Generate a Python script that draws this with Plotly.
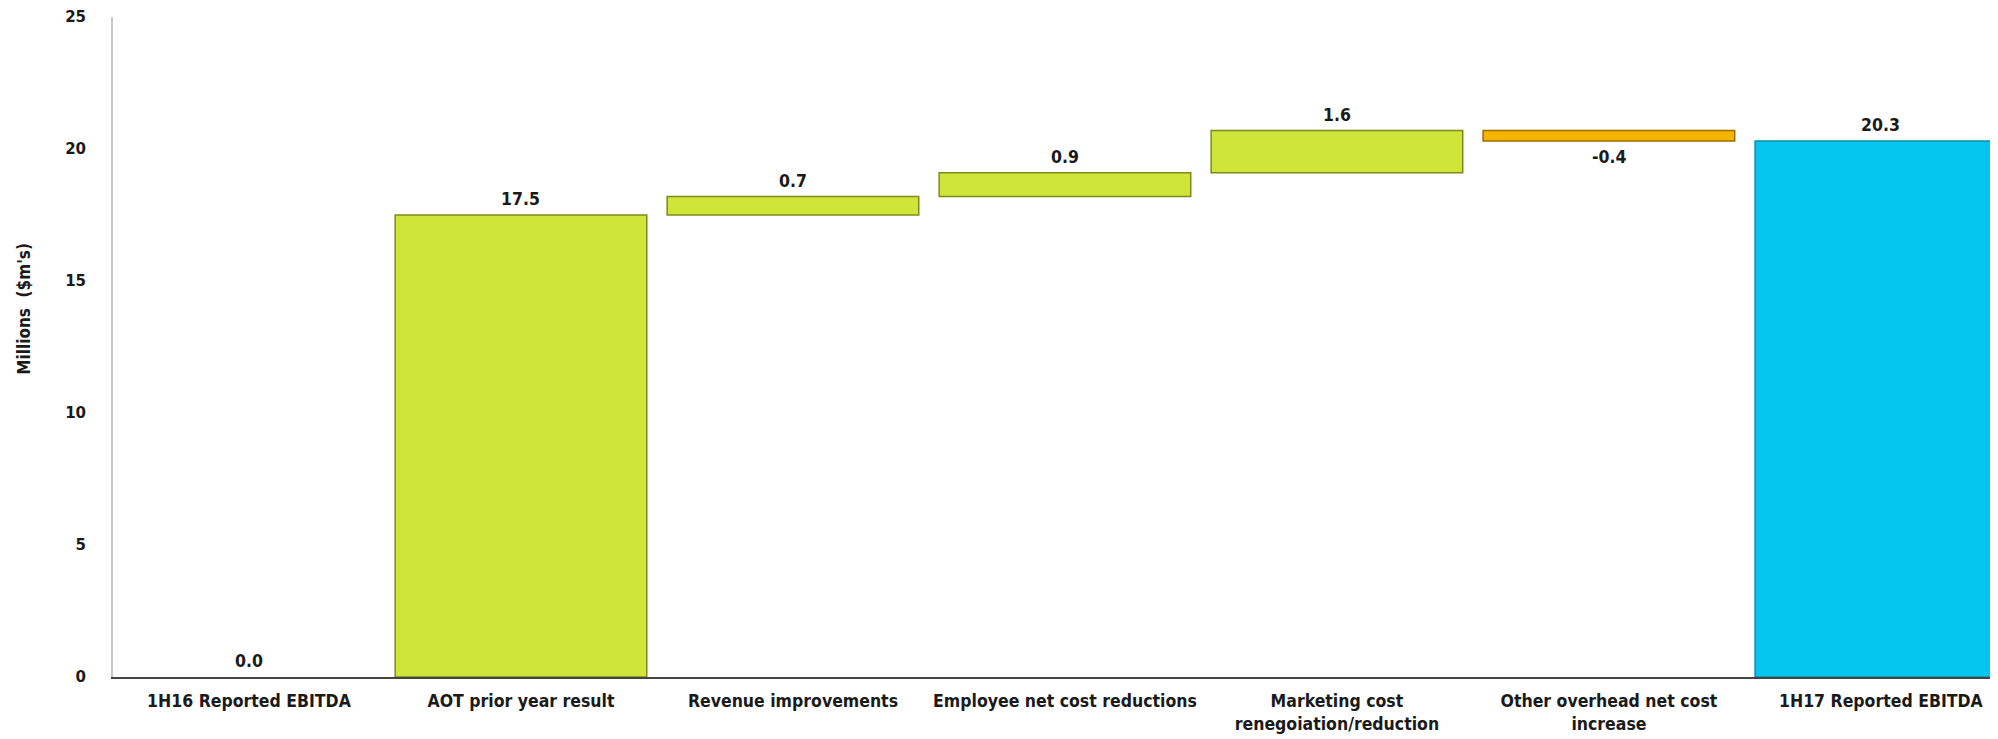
import plotly.graph_objects as go

categories = ["1H16 Reported EBITDA", "AOT prior year result", "Revenue improvements",
              "Employee net cost reductions", "Marketing cost<br>renegoiation/reduction",
              "Other overhead net cost<br>increase", "1H17 Reported EBITDA"]
values = [0.0, 17.5, 0.7, 0.9, 1.6, -0.4, 20.3]
kinds = ["total", "delta", "delta", "delta", "delta", "delta", "total"]
y_ticks = [0, 5, 10, 15, 20, 25]

# compute bases for the waterfall
bases = []
running = 0.0
for v, k in zip(values, kinds):
    if k == "total":
        bases.append(0.0)
        running = v
    else:
        bases.append(running)
        running += v

GREEN = "#cfe53a"
ORANGE = "#f5b400"
CYAN = "#04c5ee"
colors, lines, lwidths = [], [], []
for v, k in zip(values, kinds):
    if k == "total" and v > 1:
        colors.append(CYAN); lines.append("#0a8fab")
    elif v >= 0:
        colors.append(GREEN); lines.append("#7d8a1c")
    else:
        colors.append(ORANGE); lines.append("#9a6f00")
    lwidths.append(0 if v == 0 else 1.5)

font_fam = "Liberation Sans Narrow, Arial Narrow, DejaVu Sans Condensed, Liberation Sans, sans-serif"

fig = go.Figure(go.Bar(
    x=categories, y=values, base=bases,
    marker=dict(color=colors, line=dict(color=lines, width=lwidths)),
    width=0.925,
    hoverinfo="skip",
))

for c, v, b in zip(categories, values, bases):
    if v >= 0:
        fig.add_annotation(x=c, y=b + v, text=f"<b>{v:.1f}</b>", showarrow=False,
                           yanchor="bottom", yshift=4,
                           font=dict(family=font_fam, size=17.5, color="#1a1a1a"))
    else:
        fig.add_annotation(x=c, y=b + v, text=f"<b>{v:.1f}</b>", showarrow=False,
                           yanchor="top", yshift=-4,
                           font=dict(family=font_fam, size=17.5, color="#1a1a1a"))

fig.add_annotation(x=0, xref="paper", y=0.558, yref="paper", text="<b>Millions  ($m's)</b>",
                   textangle=-90, showarrow=False, xanchor="center", yanchor="middle",
                   xshift=-89, font=dict(family=font_fam, size=17, color="#1a1a1a"))

fig.update_layout(
    width=1998, height=739,
    margin=dict(l=105, r=0, t=9, b=70),
    plot_bgcolor="white", paper_bgcolor="white",
    showlegend=False,
    xaxis=dict(
        range=[-0.5, 6.46], automargin=False,
        showline=True, linecolor="#444444", linewidth=2,
        ticks="", showgrid=False, ticklabelstandoff=7,
        tickfont=dict(family=font_fam, size=17.5, color="#1a1a1a", weight="bold"),
        tickangle=0,
    ),
    yaxis=dict(
        range=[0, 25], tickvals=y_ticks, automargin=False,
        showline=True, linecolor="#c8c8c8", linewidth=2,
        showgrid=False, zeroline=False, ticks="",
        ticklabelstandoff=22,
        tickfont=dict(family="DejaVu Sans, Verdana, sans-serif", size=15, color="#1a1a1a", weight="bold"),
    ),
)

fig.write_html("out.html")
